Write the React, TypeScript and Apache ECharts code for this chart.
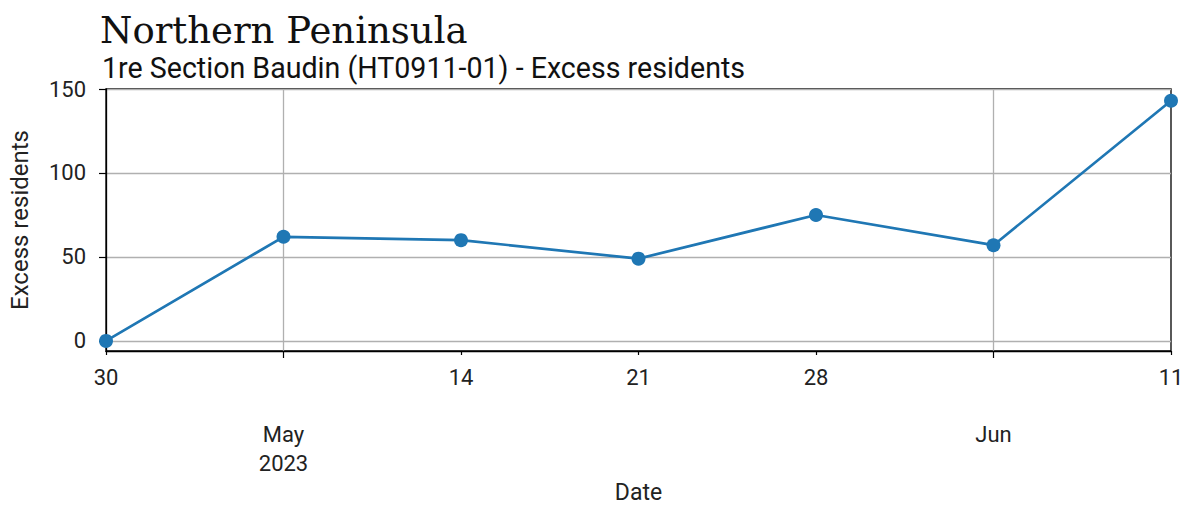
import React, { useEffect, useRef } from "react";
import * as echarts from "echarts";

const dates = ["2023-04-30", "2023-05-07", "2023-05-14", "2023-05-21", "2023-05-28", "2023-06-04", "2023-06-11"];
const excessResidents = [0, 62, 60, 49, 75, 57, 143];
const minorTickDates = ["2023-04-30", "2023-05-14", "2023-05-21", "2023-05-28", "2023-06-11"];
const majorTickDates = ["2023-05-07", "2023-06-04"];
const majorTickLabels = ["May\n2023", "Jun"];
const yTicks = [0, 50, 100, 150];
const titleText = "Northern Peninsula";
const subtitleText = "1re Section Baudin (HT0911-01) - Excess residents";
const xName = "Date";
const yName = "Excess residents";

const DAY = 86400000;
const base = Date.parse(dates[0] + "T00:00:00Z");
const toOffset = (d: string) => (Date.parse(d + "T00:00:00Z") - base) / DAY;
const lastOffset = toOffset(dates[dates.length - 1]);

export default function App() {
  const ref = useRef<HTMLDivElement>(null);
  useEffect(() => {
    if (!ref.current) return;
    const chart = echarts.init(ref.current, null, { renderer: "svg" });
    const minorOffsets = minorTickDates.map(toOffset);
    const majorOffsets = majorTickDates.map(toOffset);
    const textColor = "#222";
    const font = "Roboto";
    chart.setOption({
      animation: false,
      backgroundColor: "#fff",
      title: [
        {
          text: titleText,
          left: 100,
          top: 12,
          padding: 0,
          textStyle: { fontFamily: "DejaVu Serif", fontSize: 37, fontWeight: "normal", color: "#111" },
        },
        {
          text: subtitleText,
          left: 102,
          top: 53,
          padding: 0,
          textStyle: { fontFamily: font, fontSize: 28.6, fontWeight: "normal", color: "#111" },
        },
      ],
      grid: {
        left: 104,
        right: 17,
        top: 89,
        bottom: 157,
        show: true,
        borderColor: "#000",
        borderWidth: 1.3,
        backgroundColor: "transparent",
      },
      xAxis: [
        {
          type: "value",
          min: 0,
          max: lastOffset,
          position: "bottom",
          name: xName,
          nameLocation: "middle",
          nameGap: 130,
          nameTextStyle: { fontFamily: font, fontSize: 23, color: textColor },
          axisLine: { show: true, onZero: false, lineStyle: { color: "#000", width: 1.3 } },
          axisTick: { show: true, length: 4, customValues: minorOffsets, lineStyle: { color: "#000", width: 1.2 } },
          axisLabel: {
            customValues: minorOffsets,
            margin: 15,
            fontFamily: font,
            fontSize: 22,
            color: textColor,
            formatter: (v: number) => String(new Date(base + v * DAY).getUTCDate()),
          },
          splitLine: { show: false },
        },
        {
          type: "value",
          min: 0,
          max: lastOffset,
          position: "bottom",
          axisLine: { show: false, onZero: false },
          axisTick: { show: true, length: 7, customValues: majorOffsets, lineStyle: { color: "#000", width: 1.2 } },
          axisLabel: {
            customValues: majorOffsets,
            margin: 69,
            lineHeight: 29,
            fontFamily: font,
            fontSize: 22,
            color: textColor,
            formatter: (v: number) => majorTickLabels[majorOffsets.indexOf(v)] ?? "",
          },
          splitLine: { show: true, lineStyle: { color: "#b0b0b0", width: 1.3 } },
        },
      ],
      yAxis: {
        type: "value",
        min: -6,
        max: 150,
        name: yName,
        nameLocation: "middle",
        nameGap: 74,
        nameTextStyle: { fontFamily: font, fontSize: 24, color: textColor },
        axisLine: { show: true, onZero: false, lineStyle: { color: "#000", width: 1.3 } },
        axisTick: { show: true, length: 7, customValues: yTicks, lineStyle: { color: "#000", width: 1.2 } },
        axisLabel: { customValues: yTicks, margin: 20, fontFamily: font, fontSize: 22, color: textColor },
        splitLine: { show: true, lineStyle: { color: "#b0b0b0", width: 1.3 } },
      },
      series: [
        {
          type: "line",
          xAxisIndex: 0,
          data: dates.map((d, i) => [toOffset(d), excessResidents[i]]),
          symbol: "circle",
          symbolSize: 14,
          showSymbol: true,
          clip: true,
          itemStyle: { color: "#1f77b4" },
          lineStyle: { color: "#1f77b4", width: 2.7 },
        },
      ],
    });
    return () => chart.dispose();
  }, []);
  return <div ref={ref} style={{ position: "absolute", left: 0, top: 0, width: 1188, height: 509 }} />;
}
